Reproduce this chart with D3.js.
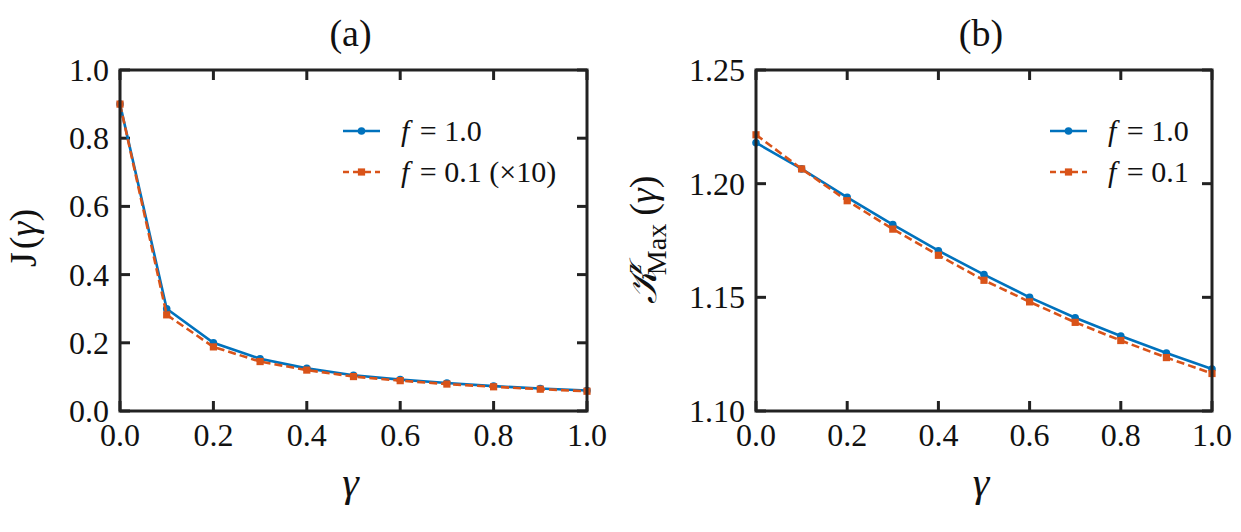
<!DOCTYPE html>
<html>
<head>
<meta charset="utf-8">
<script src="https://cdn.jsdelivr.net/npm/d3@7"></script>
<style>
  body { margin: 0; background: #fff; }
  svg text, svg tspan { font-family: "Liberation Serif"; }
</style>
</head>
<body>
<svg id="chart" width="1241" height="532"></svg>
<script>
// Data
var gammaValues = [0.0, 0.1, 0.2, 0.3, 0.4, 0.5, 0.6, 0.7, 0.8, 0.9, 1.0];
var jF10 = [0.900, 0.300, 0.200, 0.153, 0.125, 0.105, 0.092, 0.082, 0.073, 0.066, 0.060];
var jF01 = [0.900, 0.282, 0.188, 0.145, 0.120, 0.101, 0.089, 0.079, 0.071, 0.064, 0.058];
var kF10 = [1.2180, 1.2065, 1.1940, 1.1820, 1.1705, 1.1600, 1.1500, 1.1410, 1.1330, 1.1255, 1.1185];
var kF01 = [1.2215, 1.2065, 1.1925, 1.1800, 1.1685, 1.1575, 1.1480, 1.1390, 1.1310, 1.1235, 1.1165];

var xTicks = [0.0, 0.2, 0.4, 0.6, 0.8, 1.0];
var yTicksA = [0.0, 0.2, 0.4, 0.6, 0.8, 1.0];
var yTicksB = [1.10, 1.15, 1.20, 1.25];

var BLUE = "#0072BD";
var ORANGE = "#D95319";
var AXIS = "#222";
var FONT = "Liberation Serif";

var svg = d3.select("#chart");

// every text node gets the serif font set inline
function addText(sel) {
  return sel.append("text").style("font-family", FONT).attr("fill", "#111");
}

function drawPanel(opts) {
  var g = svg.append("g");
  var x = d3.scaleLinear().domain([0, 1]).range([opts.left, opts.right]);
  var y = d3.scaleLinear().domain(opts.yDomain).range([opts.bottom, opts.top]);

  // tick marks pointing inward, on all four sides
  var tickLen = 10;
  g.selectAll(".xt-b").data(xTicks).enter().append("line")
    .attr("x1", d => x(d)).attr("x2", d => x(d))
    .attr("y1", opts.bottom).attr("y2", opts.bottom - tickLen)
    .attr("stroke", AXIS).attr("stroke-width", 3);
  g.selectAll(".xt-t").data(xTicks).enter().append("line")
    .attr("x1", d => x(d)).attr("x2", d => x(d))
    .attr("y1", opts.top).attr("y2", opts.top + tickLen)
    .attr("stroke", AXIS).attr("stroke-width", 3);
  g.selectAll(".yt-l").data(opts.yTicks).enter().append("line")
    .attr("x1", opts.left).attr("x2", opts.left + tickLen)
    .attr("y1", d => y(d)).attr("y2", d => y(d))
    .attr("stroke", AXIS).attr("stroke-width", 3);
  g.selectAll(".yt-r").data(opts.yTicks).enter().append("line")
    .attr("x1", opts.right).attr("x2", opts.right - tickLen)
    .attr("y1", d => y(d)).attr("y2", d => y(d))
    .attr("stroke", AXIS).attr("stroke-width", 3);

  // tick labels
  g.selectAll(".xl").data(xTicks).enter().append("text")
    .style("font-family", FONT).attr("fill", "#111")
    .attr("x", d => x(d)).attr("y", opts.bottom + 35)
    .attr("text-anchor", "middle").attr("font-size", 32)
    .text(d => d3.format(".1f")(d));
  g.selectAll(".yl").data(opts.yTicks).enter().append("text")
    .style("font-family", FONT).attr("fill", "#111")
    .attr("x", opts.left - 11).attr("y", d => y(d) + 11)
    .attr("text-anchor", "end").attr("font-size", 32)
    .text(d => d3.format(opts.yFormat)(d));

  // lines and markers
  var line = d3.line().x((d, i) => x(gammaValues[i])).y(d => y(d));

  g.append("path").datum(opts.s1)
    .attr("d", line).attr("fill", "none")
    .attr("stroke", BLUE).attr("stroke-width", 2.6);
  g.selectAll(".m1").data(opts.s1).enter().append("circle")
    .attr("cx", (d, i) => x(gammaValues[i])).attr("cy", d => y(d))
    .attr("r", 3.8).attr("fill", BLUE);

  g.append("path").datum(opts.s2)
    .attr("d", line).attr("fill", "none")
    .attr("stroke", ORANGE).attr("stroke-width", 2.6)
    .attr("stroke-dasharray", "8,4");
  g.selectAll(".m2").data(opts.s2).enter().append("rect")
    .attr("x", (d, i) => x(gammaValues[i]) - 3.6).attr("y", d => y(d) - 3.6)
    .attr("width", 7.2).attr("height", 7.2).attr("fill", ORANGE);

  // frame
  g.append("rect")
    .attr("x", opts.left).attr("y", opts.top)
    .attr("width", opts.right - opts.left).attr("height", opts.bottom - opts.top)
    .attr("fill", "none").attr("stroke", AXIS).attr("stroke-width", 3);

  // title
  addText(g)
    .attr("x", (opts.left + opts.right) / 2 - 3).attr("y", 46)
    .attr("text-anchor", "middle").attr("font-size", 38)
    .text(opts.title);

  // x label
  addText(g)
    .attr("x", (opts.left + opts.right) / 2 - 3).attr("y", 496)
    .attr("text-anchor", "middle").attr("font-size", 42)
    .attr("font-style", "italic")
    .text("\u03B3");

  // legend
  var lg = g.append("g").attr("transform", `translate(${opts.legendX}, 131)`);
  var rows = [
    { color: BLUE, dash: null, marker: "circle", label: opts.labels[0] },
    { color: ORANGE, dash: "8,4", marker: "square", label: opts.labels[1] }
  ];
  rows.forEach(function(r, i) {
    var ry = i * 41;
    lg.append("line")
      .attr("x1", 0).attr("x2", 37).attr("y1", ry).attr("y2", ry)
      .attr("stroke", r.color).attr("stroke-width", 2.6)
      .attr("stroke-dasharray", r.dash ? "7,4" : null)
      .attr("stroke-dashoffset", r.dash ? 1 : null);
    if (r.marker == "circle") {
      lg.append("circle").attr("cx", 18.5).attr("cy", ry).attr("r", 3.8).attr("fill", r.color);
    } else {
      lg.append("rect").attr("x", 14.9).attr("y", ry - 3.6)
        .attr("width", 7.2).attr("height", 7.2).attr("fill", r.color);
    }
    var t = addText(lg).attr("x", 58).attr("y", ry + 10).attr("font-size", 30);
    t.append("tspan").style("font-family", FONT).attr("font-style", "italic").text("f");
    t.append("tspan").style("font-family", FONT).attr("dx", 3).text(" = " + r.label);
  });
}

drawPanel({
  left: 120, right: 587, top: 70, bottom: 411,
  yDomain: [0, 1], yTicks: yTicksA, yFormat: ".1f",
  s1: jF10, s2: jF01, title: "(a)",
  legendX: 343, labels: ["1.0", "0.1 (\u00D710)"]
});

drawPanel({
  left: 756, right: 1212, top: 70, bottom: 411,
  yDomain: [1.10, 1.25], yTicks: yTicksB, yFormat: ".2f",
  s1: kF10, s2: kF01, title: "(b)",
  legendX: 1050, labels: ["1.0", "0.1"]
});

// y labels
var ja = addText(svg)
  .attr("transform", "translate(36, 238) rotate(-90)")
  .attr("text-anchor", "middle").attr("font-size", 38);
ja.append("tspan").style("font-family", FONT).text("J");
ja.append("tspan").style("font-family", FONT).attr("dx", 3).text("(");
ja.append("tspan").style("font-family", FONT).attr("font-style", "italic").text("\u03B3");
ja.append("tspan").style("font-family", FONT).text(")");

var yl = addText(svg)
  .attr("transform", "translate(656, 240) rotate(-90)")
  .attr("text-anchor", "middle").attr("font-size", 38);
yl.append("tspan").style("font-family", FONT).attr("font-style", "italic").text("\uD835\uDCA6");
yl.append("tspan").style("font-family", FONT).attr("font-size", 24).attr("font-style", "italic").attr("dy", -15).attr("dx", -4).text("z");
yl.append("tspan").style("font-family", FONT).attr("font-size", 28).attr("dy", 25).attr("dx", -11).text("Max");
yl.append("tspan").style("font-family", FONT).attr("dy", -10).attr("dx", 8).text("(");
yl.append("tspan").style("font-family", FONT).attr("font-style", "italic").text("\u03B3");
yl.append("tspan").style("font-family", FONT).text(")");
</script>
</body>
</html>
